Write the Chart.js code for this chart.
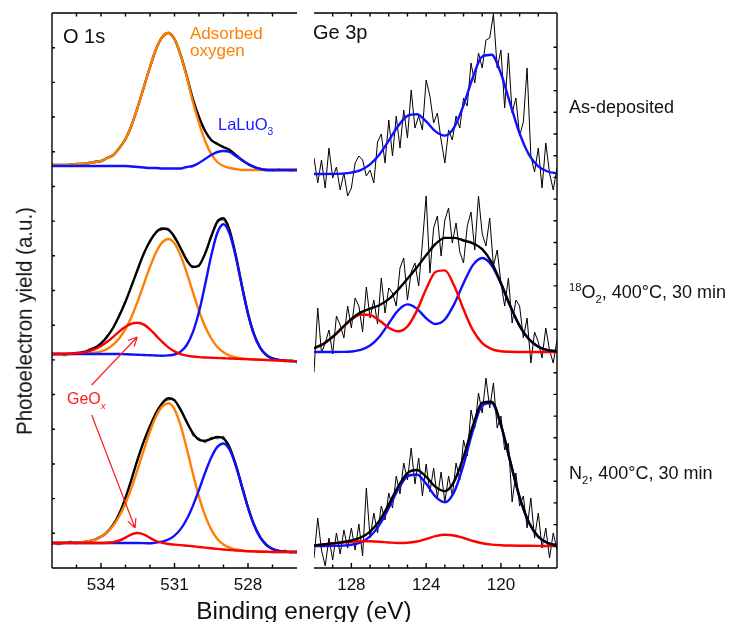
<!DOCTYPE html>
<html>
<head>
<meta charset="utf-8">
<script src="https://cdn.jsdelivr.net/npm/chart.js@4.4.1/dist/chart.umd.min.js"></script>
<style>
  html, body { margin: 0; padding: 0; background: #fff; }
  #wrap { position: relative; width: 736px; height: 622px; overflow: hidden;
          font-family: "Liberation Sans", Arial, Helvetica, sans-serif; color: #111; }
  #wrap canvas { position: absolute; top: 0; }
  .t { position: absolute; white-space: nowrap; line-height: 1; }
  .sub { position: relative; top: 5px; font-size: 0.62em; }
  .sup { position: relative; top: -7px; font-size: 0.62em; }
</style>
</head>
<body>
<div id="wrap">
  <canvas id="o1s" width="310" height="622" style="left:0"></canvas>
  <canvas id="ge3p" width="270" height="622" style="left:300px"></canvas>

  <div class="t" style="left:63px;top:26px;font-size:20px">O 1s</div>
  <div class="t" style="left:313px;top:22px;font-size:20px">Ge 3p</div>
  <div class="t" style="left:190px;top:25px;font-size:17px;color:#ff8000">Adsorbed</div>
  <div class="t" style="left:190px;top:42px;font-size:17px;color:#ff8000">oxygen</div>
  <div class="t" style="left:218px;top:116px;font-size:16.5px;color:#1a1aff">LaLuO<span class="sub">3</span></div>
  <div class="t" style="left:67px;top:391px;font-size:16px;color:#ff1a1a">GeO<span class="sub" style="font-style:italic">x</span></div>

  <div class="t" style="left:569px;top:98px;font-size:18px">As-deposited</div>
  <div class="t" style="left:569px;top:283px;font-size:18px"><span class="sup">18</span>O<span class="sub">2</span>, 400°C, 30 min</div>
  <div class="t" style="left:569px;top:464px;font-size:18px">N<span class="sub">2</span>, 400°C, 30 min</div>

  <div class="t" style="left:24px;top:321px;font-size:20.5px;transform:translate(-50%,-50%) rotate(-90deg) scaleY(1.08)">Photoelectron yield (a.u.)</div>
  <div class="t" style="left:304px;top:600px;font-size:23px;transform:translateX(-50%) scaleX(1.06)">Binding energy (eV)</div>
</div>

<script>
// ---- O 1s panel (binding energy in eV, yield in a.u.) ----
const O1S_ENERGY = [536, 535.75, 535.5, 535.25, 535, 534.75, 534.5, 534.25, 534, 533.75, 533.5, 533.25, 533, 532.75, 532.5, 532.25, 532, 531.75, 531.5, 531.25, 531, 530.75, 530.5, 530.25, 530, 529.75, 529.5, 529.25, 529, 528.75, 528.5, 528.25, 528, 527.75, 527.5, 527.25, 527, 526.75, 526.5, 526.25, 526];
const O1S_TICKS = [534, 531, 528];

// as-deposited
const O1S_ASDEP_RAW  = [404, 402, 403, 404, 403, 405, 404, 407, 406, 411, 412, 421, 428, 444, 460, 482, 500, 520, 530, 536, 528, 514, 491, 470, 450, 438, 427, 425, 420, 419, 412, 409, 403, 402, 398, 399, 397, 399, 398, 397, 398];
const O1S_ASDEP_FIT  = [403, 403, 403, 403, 404, 404, 405, 406, 407, 410, 413, 420, 429, 443, 461, 481, 501, 519, 531, 535, 529, 513, 492, 469, 451, 437, 428, 424, 421, 418, 413, 408, 404, 401, 399, 398, 398, 398, 398, 398, 398];
const O1S_ASDEP_ADS  = [403, 403, 403, 403, 404, 404, 405, 406, 407, 410, 413, 420, 429, 443, 461, 481, 501, 519, 531, 535, 529, 513, 491, 466, 445, 427, 414, 406, 402, 400, 399, 398, 398, 398, 398, 398, 398, 398, 398, 398, 398];
const O1S_ASDEP_LALU = [402, 402, 402, 402, 402, 402, 402, 402, 402, 402, 402, 402, 402, 401.5, 401, 400.5, 400, 400, 399.5, 399.5, 399.5, 399.5, 401, 402, 405, 409, 413, 416, 417, 416, 412, 408, 404, 401, 399, 398, 398, 398, 398, 398, 398];

// 18O2, 400 C, 30 min
const O1S_O2_RAW  = [213, 215, 212, 214, 216, 214, 219, 221, 223, 233, 239, 254, 265, 284, 297, 316, 325, 337, 338, 340, 329, 321, 306, 302, 301, 316, 330, 348, 348, 339, 311, 284, 253, 234, 219, 214, 209, 208, 206, 208, 205];
const O1S_O2_FIT  = [214, 214, 214.1, 214.3, 214.8, 215.7, 217.3, 220.1, 224.7, 231.3, 240.5, 252.4, 266.5, 282.3, 298.9, 314.4, 327, 335.7, 339.5, 338.2, 331.2, 319.8, 308, 301, 302.7, 314.4, 331.7, 346.3, 349.7, 337.7, 312.8, 282.5, 254.4, 233.3, 220.1, 212.9, 209.6, 208.1, 207.3, 207, 206.8];
const O1S_O2_ADS  = [214, 214, 214, 214, 214.1, 214.3, 214.6, 215.3, 216.7, 219.1, 223.3, 229.8, 239.1, 251.5, 266.8, 284, 301.1, 315.8, 325.6, 329, 324.6, 312.5, 295.2, 275.8, 257.2, 241.5, 229.5, 221, 215.7, 212.4, 210.6, 209.6, 209, 208.5, 208.3, 208, 207.8, 207.5, 207.3, 207, 206.8];
const O1S_O2_LALU = [214, 214, 214, 214, 214, 214, 214, 214, 214, 214, 214, 214, 213.75, 213.5, 213.25, 213, 212.75, 212.5, 212.25, 212.6, 213.5, 216.4, 223, 235.8, 256.2, 283.4, 312.5, 335.3, 343.8, 334.3, 311.5, 281.9, 254.2, 233.3, 220.1, 212.9, 209.6, 208.1, 207.5, 207, 206.8];
const O1S_O2_GEOX = [214, 214, 214.1, 214.3, 214.7, 215.4, 216.7, 218.8, 222, 226.2, 231.2, 236.6, 241.2, 244.3, 245.3, 243.4, 238.7, 232.4, 226.1, 220.6, 216.6, 213.9, 212.4, 211.5, 210.9, 210.5, 210.25, 210, 209.75, 209.5, 209.25, 209, 208.75, 208.5, 208.25, 208, 207.75, 207.5, 207.25, 207, 206.75];

// N2, 400 C, 30 min
const O1S_N2_RAW  = [26, 23, 25, 27, 24, 26, 25, 29, 32, 35, 44, 53, 71, 88, 110, 126, 143, 154, 166, 168, 169, 157, 148, 132, 130, 125, 131, 129, 132, 118, 104, 80, 62, 42, 31, 22, 20, 16, 18, 15, 17];
const O1S_N2_FIT  = [25, 25, 25.1, 25.2, 25.4, 25.9, 26.8, 28.4, 31.2, 35.9, 43.3, 54.5, 70.2, 89.2, 108.9, 126.8, 141.9, 155.2, 164.7, 169.7, 167.7, 158.4, 145.9, 134.9, 128.3, 127.2, 129.2, 131.1, 129.5, 120.6, 103.4, 81.9, 60.5, 43, 30.6, 23.2, 19, 17.2, 16.4, 16, 16];
const O1S_N2_ADS  = [25, 25, 25.1, 25.2, 25.4, 25.9, 26.8, 28.4, 31.2, 35.7, 42.4, 52, 64.8, 80.6, 98.9, 118.2, 136.5, 151.7, 161.6, 164.8, 158.7, 142.4, 119.5, 94.5, 71.2, 52.3, 38.4, 29.1, 23.5, 20.3, 18.5, 17.6, 16.9, 16.6, 16.3, 16.2, 16, 16, 16, 16, 16];
const O1S_N2_LALU = [25, 25, 25, 25, 25, 25, 25, 25, 25, 25, 25, 25, 25, 25, 25, 24.9, 24.7, 25.5, 26.4, 28.5, 32.4, 38.9, 48.7, 62.1, 78.1, 95.3, 110.5, 121.1, 124.5, 118.3, 102.4, 81.5, 60.4, 43, 30.6, 23.2, 19, 17.2, 16.4, 16, 16];
const O1S_N2_GEOX = [25, 25, 25, 25, 25, 25, 25, 25, 25, 25.2, 25.9, 27.5, 30.4, 33.6, 35, 33.5, 30.1, 27, 25.1, 24, 23.4, 22.9, 22.3, 21.7, 21, 20.4, 19.7, 19.1, 18.5, 18, 17.5, 17.2, 16.8, 16.6, 16.3, 16.2, 16, 16, 16, 16, 16];

// GeOx arrows: [start eV, start yield, tip eV, tip yield]
const GEOX_ARROWS = [[534.38, 183, 532.52, 231], [534.38, 153, 532.61, 40]];

// ---- Ge 3p panel ----
const GE_FIT_ENERGY = [130, 129.5, 129, 128.5, 128, 127.5, 127, 126.5, 126, 125.5, 125, 124.5, 124, 123.5, 123, 122.5, 122, 121.5, 121, 120.5, 120, 119.5, 119, 118.5, 118, 117.5, 117];
const GE_RAW_ENERGY = [130, 129.8, 129.6, 129.4, 129.2, 129, 128.8, 128.6, 128.4, 128.2, 128, 127.8, 127.6, 127.4, 127.2, 127, 126.8, 126.6, 126.4, 126.2, 126, 125.8, 125.6, 125.4, 125.2, 125, 124.8, 124.6, 124.4, 124.2, 124, 123.8, 123.6, 123.4, 123.2, 123, 122.8, 122.6, 122.4, 122.2, 122, 121.8, 121.6, 121.4, 121.2, 121, 120.8, 120.6, 120.4, 120.2, 120, 119.8, 119.6, 119.4, 119.2, 119, 118.8, 118.6, 118.4, 118.2, 118, 117.8, 117.6, 117.4, 117.2, 117];
const GE_TICKS = [128, 124, 120];

const GE_ASDEP_RAW  = [410, 385, 408, 380, 420, 390, 401, 378, 395, 372, 380, 405, 412, 408, 392, 398, 385, 426, 434, 405, 448, 412, 452, 420, 458, 430, 478, 440, 452, 438, 488, 472, 445, 455, 428, 405, 438, 428, 452, 440, 470, 462, 505, 485, 515, 500, 528, 530, 554, 500, 518, 460, 515, 455, 470, 432, 446, 500, 412, 396, 420, 380, 425, 395, 378, 400];
const GE_ASDEP_BLUE = [394, 394, 394.1, 394.4, 395.4, 397.9, 403.6, 413.5, 427.4, 442, 452.2, 453.7, 446.6, 436.6, 432.4, 440.7, 462.7, 490.7, 511.5, 513.3, 494.5, 464.2, 434.6, 413.4, 401.7, 396.5, 394.7];

const GE_O2_RAW  = [196, 260, 215, 225, 238, 214, 252, 243, 230, 262, 240, 270, 262, 236, 281, 250, 268, 244, 290, 255, 280, 275, 262, 300, 310, 268, 296, 305, 282, 325, 372, 295, 340, 352, 312, 348, 360, 325, 345, 316, 305, 342, 356, 318, 372, 334, 322, 350, 302, 318, 285, 262, 290, 245, 268, 262, 230, 250, 205, 236, 226, 210, 240, 218, 205, 228];
const GE_O2_FIT  = [219.7, 224.1, 231.1, 240.1, 249, 255.6, 259.4, 262.8, 268.8, 278.3, 289.2, 300.5, 312.7, 324, 330.1, 330.1, 327.5, 324.7, 318.9, 305.7, 285, 262, 242.1, 228.7, 221.3, 217.9, 216.6];
const GE_O2_BLUE = [216, 216, 216, 216.1, 216.5, 218.1, 222.4, 231.3, 244.5, 257.6, 263.6, 259.4, 249.8, 244, 248.5, 263.9, 284.8, 302.9, 310, 302.8, 284.3, 261.8, 242.1, 228.7, 221.3, 217.9, 216.6];
const GE_O2_RED  = [219.7, 224.1, 231.1, 240, 248.5, 253.5, 253, 247.5, 240.3, 236.7, 241.6, 257.1, 278.9, 296, 297.6, 282.2, 258.7, 237.8, 224.9, 218.9, 216.7, 216.2, 216, 216, 216, 216, 216];

const GE_N2_RAW  = [10, 50, 18, 2, 30, 8, 35, 14, 38, 20, 40, 18, 44, 12, 80, 30, 55, 35, 62, 48, 75, 60, 92, 74, 105, 88, 120, 84, 110, 72, 104, 76, 100, 70, 96, 66, 92, 72, 105, 88, 128, 112, 158, 140, 175, 155, 190, 160, 185, 140, 152, 118, 125, 66, 95, 62, 72, 40, 70, 30, 55, 20, 40, 10, 35, 18];
const GE_N2_FIT  = [22.5, 23.5, 24.6, 25.8, 27.5, 30.5, 36.4, 47.4, 63.5, 81.5, 94.9, 98, 91.2, 81.1, 76.9, 86.6, 111.2, 142.3, 165.3, 166.3, 143.3, 106.6, 70.9, 45.4, 31.3, 25, 22.8];
const GE_N2_BLUE = [22, 22, 22.1, 22.3, 23.2, 25.7, 31.7, 43.2, 60, 78.5, 91.7, 93.5, 84.2, 71.3, 65.7, 76.1, 103.2, 137.3, 162.6, 164.9, 142.5, 106.1, 70.6, 45.2, 31.2, 25, 22.8];
const GE_N2_RED  = [22.5, 23.5, 24.5, 25.5, 26.3, 26.8, 26.7, 26.2, 25.5, 25, 25.2, 26.5, 29, 31.8, 33.2, 32.5, 30, 27, 24.7, 23.4, 22.8, 22.5, 22.3, 22.2, 22.1, 22, 22];

const ORANGE = '#ff8000';
const BLUE   = '#1010ff';
const RED    = '#ff0000';
const BLACK  = '#000000';
const FONT   = '"Liberation Sans", Arial, Helvetica, sans-serif';

const pts = (xs, ys) => xs.map((e, i) => ({ x: e, y: ys[i] }));

function fitLine(xs, ys, color, order) {
  return { data: pts(xs, ys), borderColor: color, borderWidth: 2.4, pointRadius: 0,
           fill: false, cubicInterpolationMode: 'monotone', order };
}
function rawLine(xs, ys, color, order) {
  return { data: pts(xs, ys), borderColor: color, borderWidth: 1, pointRadius: 0,
           fill: false, tension: 0, order };
}

// box + inward tick marks, drawn from the chart's own scales
const framePlugin = {
  id: 'frame',
  afterDatasetsDraw(chart, args, opts) {
    const { ctx, chartArea: a, scales: { x, y } } = chart;
    ctx.save();
    ctx.strokeStyle = '#000';
    ctx.lineWidth = 1.4;
    ctx.beginPath();
    ctx.moveTo(a.left, a.top);    ctx.lineTo(a.right, a.top);
    ctx.moveTo(a.left, a.bottom); ctx.lineTo(a.right, a.bottom);
    if (opts.ySide === 'left') { ctx.moveTo(a.left, a.top); ctx.lineTo(a.left, a.bottom); }
    else { ctx.moveTo(a.right, a.top); ctx.lineTo(a.right, a.bottom); }
    x.ticks.forEach(t => {
      if (t.value <= x.min || t.value >= x.max) return;
      const px = x.getPixelForValue(t.value);
      const len = opts.major.includes(t.value) ? 5 : 3.5;
      ctx.moveTo(px, a.bottom); ctx.lineTo(px, a.bottom - len);
      ctx.moveTo(px, a.top);    ctx.lineTo(px, a.top + 3.5);
    });
    y.ticks.forEach(t => {
      if (t.value <= y.min || t.value >= y.max) return;
      const py = y.getPixelForValue(t.value);
      if (opts.ySide === 'left') { ctx.moveTo(a.left, py); ctx.lineTo(a.left + 3, py); }
      else { ctx.moveTo(a.right, py); ctx.lineTo(a.right - 3.5, py); }
    });
    ctx.stroke();
    ctx.restore();
  }
};

const arrowPlugin = {
  id: 'geoxArrows',
  afterDatasetsDraw(chart) {
    const { ctx, scales: { x, y } } = chart;
    ctx.save();
    ctx.strokeStyle = '#ff1a1a';
    ctx.lineWidth = 1.2;
    GEOX_ARROWS.forEach(([e0, v0, e1, v1]) => {
      const x0 = x.getPixelForValue(e0), y0 = y.getPixelForValue(v0);
      const x1 = x.getPixelForValue(e1), y1 = y.getPixelForValue(v1);
      const ang = Math.atan2(y1 - y0, x1 - x0);
      ctx.beginPath();
      ctx.moveTo(x0, y0); ctx.lineTo(x1, y1);
      [-0.45, 0.45].forEach(d => {
        ctx.moveTo(x1, y1);
        ctx.lineTo(x1 - 10 * Math.cos(ang + d), y1 - 10 * Math.sin(ang + d));
      });
      ctx.stroke();
    });
    ctx.restore();
  }
};

function panelOptions(xMin, xMax, labels, pad, ySide, yStep) {
  return {
    responsive: false,
    animation: false,
    devicePixelRatio: 1,
    events: [],
    layout: { padding: pad, autoPadding: false },
    plugins: {
      legend: { display: false },
      tooltip: { enabled: false },
      frame: { ySide, major: labels }
    },
    scales: {
      x: {
        type: 'linear', reverse: true, min: xMin, max: xMax,
        grid: { display: false, drawTicks: false },
        border: { display: false },
        ticks: {
          stepSize: 1, autoSkip: false, maxRotation: 0, padding: 7,
          color: '#111', font: { family: FONT, size: 17 },
          callback: v => labels.includes(v) ? String(v) : ''
        },
        afterFit: s => { s.height = 30; }
      },
      y: { type: 'linear', display: false, min: 0, max: 555, ticks: { stepSize: yStep } }
    }
  };
}

new Chart(document.getElementById('o1s'), {
  type: 'line',
  data: {
    datasets: [
      rawLine(O1S_ENERGY, O1S_ASDEP_RAW, '#444', 5),
      fitLine(O1S_ENERGY, O1S_ASDEP_FIT, BLACK, 4),
      fitLine(O1S_ENERGY, O1S_ASDEP_ADS, ORANGE, 3),
      fitLine(O1S_ENERGY, O1S_ASDEP_LALU, BLUE, 2),

      rawLine(O1S_ENERGY, O1S_O2_RAW, '#444', 5),
      fitLine(O1S_ENERGY, O1S_O2_FIT, BLACK, 4),
      fitLine(O1S_ENERGY, O1S_O2_ADS, ORANGE, 3),
      fitLine(O1S_ENERGY, O1S_O2_LALU, BLUE, 2),
      fitLine(O1S_ENERGY, O1S_O2_GEOX, RED, 1),

      rawLine(O1S_ENERGY, O1S_N2_RAW, '#444', 5),
      fitLine(O1S_ENERGY, O1S_N2_FIT, BLACK, 4),
      fitLine(O1S_ENERGY, O1S_N2_ADS, ORANGE, 3),
      fitLine(O1S_ENERGY, O1S_N2_LALU, BLUE, 2),
      fitLine(O1S_ENERGY, O1S_N2_GEOX, RED, 1)
    ]
  },
  options: panelOptions(526, 536, O1S_TICKS, { left: 52, right: 13, top: 13, bottom: 24 }, 'left', 17.35),
  plugins: [framePlugin, arrowPlugin]
});

new Chart(document.getElementById('ge3p'), {
  type: 'line',
  data: {
    datasets: [
      rawLine(GE_RAW_ENERGY, GE_ASDEP_RAW, BLACK, 5),
      fitLine(GE_FIT_ENERGY, GE_ASDEP_BLUE, BLUE, 3),

      rawLine(GE_RAW_ENERGY, GE_O2_RAW, BLACK, 5),
      fitLine(GE_FIT_ENERGY, GE_O2_BLUE, BLUE, 3),
      fitLine(GE_FIT_ENERGY, GE_O2_RED, RED, 2),
      fitLine(GE_FIT_ENERGY, GE_O2_FIT, BLACK, 1),

      rawLine(GE_RAW_ENERGY, GE_N2_RAW, BLACK, 5),
      fitLine(GE_FIT_ENERGY, GE_N2_BLUE, BLUE, 3),
      fitLine(GE_FIT_ENERGY, GE_N2_RED, RED, 2),
      fitLine(GE_FIT_ENERGY, GE_N2_FIT, BLACK, 1)
    ]
  },
  options: panelOptions(117, 130, GE_TICKS, { left: 14, right: 13, top: 13, bottom: 24 }, 'right', 21.7),
  plugins: [framePlugin]
});
</script>
</body>
</html>
